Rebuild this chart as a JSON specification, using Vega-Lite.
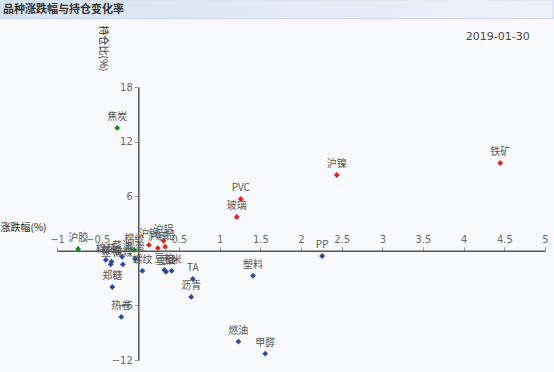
{
  "$schema": "https://vega.github.io/schema/vega-lite/v6.json",
  "width": 488,
  "height": 273,
  "autosize": {"type": "none"},
  "padding": {"left": 57, "top": 87, "right": 9, "bottom": 12},
  "background": "#f9fafd",
  "config": {
    "view": {"stroke": null},
    "font": "Noto Sans CJK SC"
  },
  "datasets": {
    "points": [
      {"品种": "铁矿", "涨跌幅": 4.45, "持仓比": 9.65, "类别": "涨增"},
      {"品种": "沪镍", "涨跌幅": 2.44, "持仓比": 8.33, "类别": "涨增"},
      {"品种": "PVC", "涨跌幅": 1.26, "持仓比": 5.69, "类别": "涨增"},
      {"品种": "玻璃", "涨跌幅": 1.21, "持仓比": 3.71, "类别": "涨增"},
      {"品种": "沪铜", "涨跌幅": 0.13, "持仓比": 0.65, "类别": "涨增"},
      {"品种": "沪锌", "涨跌幅": 0.24, "持仓比": 0.3, "类别": "涨增"},
      {"品种": "沪铝", "涨跌幅": 0.31, "持仓比": 1.1, "类别": "涨增"},
      {"品种": "沪铅", "涨跌幅": 0.33, "持仓比": 0.45, "类别": "涨增"},
      {"品种": "焦炭", "涨跌幅": -0.26, "持仓比": 13.5, "类别": "跌增"},
      {"品种": "沪胶", "涨跌幅": -0.74, "持仓比": 0.2, "类别": "跌增"},
      {"品种": "棉纱", "涨跌幅": -0.05, "持仓比": 0.1, "类别": "跌增"},
      {"品种": "棉花", "涨跌幅": -0.4, "持仓比": -1.0, "类别": "减仓"},
      {"品种": "菜粕", "涨跌幅": -0.33, "持仓比": -1.2, "类别": "减仓"},
      {"品种": "豆一", "涨跌幅": -0.34, "持仓比": -1.5, "类别": "减仓"},
      {"品种": "菜油", "涨跌幅": -0.2, "持仓比": -0.65, "类别": "减仓"},
      {"品种": "焦煤", "涨跌幅": -0.19, "持仓比": -1.5, "类别": "减仓"},
      {"品种": "鸡蛋", "涨跌幅": -0.04, "持仓比": -0.9, "类别": "减仓"},
      {"品种": "螺纹", "涨跌幅": 0.05, "持仓比": -2.2, "类别": "减仓"},
      {"品种": "豆粕", "涨跌幅": 0.32, "持仓比": -2.1, "类别": "减仓"},
      {"品种": "豆油", "涨跌幅": 0.34, "持仓比": -2.3, "类别": "减仓"},
      {"品种": "玉米", "涨跌幅": 0.41, "持仓比": -2.2, "类别": "减仓"},
      {"品种": "郑糖", "涨跌幅": -0.32, "持仓比": -3.98, "类别": "减仓"},
      {"品种": "热卷", "涨跌幅": -0.21, "持仓比": -7.27, "类别": "减仓"},
      {"品种": "TA", "涨跌幅": 0.67, "持仓比": -3.1, "类别": "减仓"},
      {"品种": "沥青", "涨跌幅": 0.65, "持仓比": -5.07, "类别": "减仓"},
      {"品种": "塑料", "涨跌幅": 1.41, "持仓比": -2.75, "类别": "减仓"},
      {"品种": "PP", "涨跌幅": 2.26, "持仓比": -0.57, "类别": "减仓"},
      {"品种": "燃油", "涨跌幅": 1.23, "持仓比": -9.98, "类别": "减仓"},
      {"品种": "甲醇", "涨跌幅": 1.56, "持仓比": -11.3, "类别": "减仓"}
    ]
  },
  "layer": [
    {
      "data": {"values": [{"标题": "品种涨跌幅与持仓变化率", "日期": "2019-01-30"}]},
      "mark": {"type": "rect", "stroke": "#c9d5e8", "strokeWidth": 1,
        "fill": {"gradient": "linear", "x1": 0, "y1": 0, "x2": 1, "y2": 0,
          "stops": [{"offset": 0, "color": "#d6e1f1"}, {"offset": 1, "color": "#eef2f9"}]}},
      "encoding": {
        "x": {"datum": -1.71, "type": "quantitative", "scale": {"domain": [-1, 5], "nice": false, "zero": false}},
        "x2": {"datum": 5.1},
        "y": {"datum": 27.6, "type": "quantitative", "scale": {"domain": [-12, 18], "nice": false, "zero": false}},
        "y2": {"datum": 25.5}
      }
    },
    {
      "data": {"values": [{"标题": "品种涨跌幅与持仓变化率"}]},
      "mark": {"type": "text", "fontSize": 11, "fontWeight": "bold", "color": "#333333", "font": "Noto Sans CJK SC", "align": "left", "baseline": "middle"},
      "encoding": {
        "x": {"datum": -1.665, "type": "quantitative"},
        "y": {"datum": 26.5, "type": "quantitative"},
        "text": {"field": "标题"}
      }
    },
    {
      "data": {"values": [{"日期": "2019-01-30"}]},
      "mark": {"type": "text", "fontSize": 11, "color": "#444444", "font": "DejaVu Sans", "align": "center", "baseline": "middle"},
      "encoding": {
        "x": {"datum": 4.42, "type": "quantitative"},
        "y": {"datum": 23.5, "type": "quantitative"},
        "text": {"field": "日期"}
      }
    },
    {
      "data": {"name": "points"},
      "mark": {"type": "point", "shape": "diamond", "filled": true, "size": 34, "opacity": 1},
      "encoding": {
        "x": {
          "field": "涨跌幅", "type": "quantitative",
          "scale": {"domain": [-1, 5], "nice": false, "zero": false},
          "axis": {
            "orient": "top", "offset": -163.8,
            "values": [-1, -0.5, 0.5, 1, 1.5, 2, 2.5, 3, 3.5, 4, 4.5, 5],
            "format": "~g",
            "grid": false,
            "domainColor": "#555555", "domainWidth": 1.5,
            "tickColor": "#999999", "tickSize": 4,
            "labelColor": "#6a6a6a", "labelFontSize": 10, "labelFont": "DejaVu Sans", "labelPadding": 2,
            "labelFlush": false, "labelOverlap": false,
            "title": "涨跌幅(%)", "titleX": -57, "titleY": -23, "titleAlign": "left", "titleBaseline": "middle",
            "titleFontSize": 10, "titleFontWeight": "normal", "titleColor": "#222222", "titleFont": "Noto Sans CJK SC"
          }
        },
        "y": {
          "field": "持仓比", "type": "quantitative",
          "scale": {"domain": [-12, 18], "nice": false, "zero": false},
          "axis": {
            "orient": "left", "offset": -81.3,
            "values": [-12, -6, 6, 12, 18],
            "format": "~g",
            "grid": false,
            "domainColor": "#555555", "domainWidth": 1.5,
            "tickColor": "#999999", "tickSize": 4,
            "labelColor": "#6a6a6a", "labelFontSize": 10, "labelFont": "DejaVu Sans", "labelPadding": 2,
            "labelFlush": false, "labelOverlap": false,
            "title": "持仓比(%)", "titleX": -36, "titleY": -62, "titleAngle": 90, "titleAlign": "left", "titleBaseline": "middle",
            "titleFontSize": 10, "titleFontWeight": "normal", "titleColor": "#222222", "titleFont": "Noto Sans CJK SC"
          }
        },
        "color": {
          "field": "类别", "type": "nominal",
          "scale": {"domain": ["涨增", "跌增", "减仓"], "range": ["#e2241a", "#10891a", "#2c4a9c"]},
          "legend": null
        }
      }
    },
    {
      "data": {"name": "points"},
      "mark": {"type": "text", "fontSize": 10, "color": "#555555", "font": "Noto Sans CJK SC", "dy": -11, "baseline": "middle", "align": "center"},
      "encoding": {
        "x": {"field": "涨跌幅", "type": "quantitative"},
        "y": {"field": "持仓比", "type": "quantitative"},
        "text": {"field": "品种"}
      }
    }
  ]
}
